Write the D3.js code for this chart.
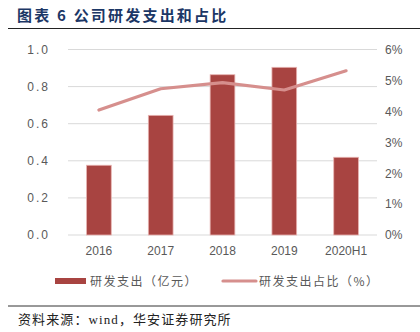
<!DOCTYPE html>
<html><head><meta charset="utf-8">
<script src="https://cdn.jsdelivr.net/npm/d3@7"></script>
<style>body{margin:0;background:#fff}svg{display:block}</style>
</head><body>
<script>
const categories = ["2016","2017","2018","2019","2020H1"];
const rdSpend = [0.376, 0.645, 0.864, 0.904, 0.419];
const rdRatio = [4.04, 4.73, 4.93, 4.69, 5.31];
const leftTicks = [0,0.2,0.4,0.6,0.8,1.0];
const rightTicks = [0,1,2,3,4,5,6];

const W=420,H=332;
const svg=d3.select("body").append("svg").attr("width",W).attr("height",H);
const m={l:68,r:377,t:49.5,b:235};
const x=d3.scaleBand().domain(categories).range([m.l,m.r]).paddingInner(0.6).paddingOuter(0.3);
const yL=d3.scaleLinear().domain([0,1]).range([m.b,m.t]);
const yR=d3.scaleLinear().domain([0,6]).range([m.b,m.t]);
const cjk='"Noto Sans CJK SC","Noto Sans",sans-serif';

// title
svg.append("text").attr("x",17).attr("y",20.5).attr("font-family",cjk).attr("font-weight","bold")
  .attr("font-size",15).attr("fill","#1c3766").attr("letter-spacing","2.2px").text("图表 6 公司研发支出和占比");
svg.append("line").attr("x1",8).attr("x2",420).attr("y1",28.5).attr("y2",28.5).attr("stroke","#222").attr("stroke-width",1);

// grid
svg.append("g").selectAll("line").data(leftTicks).join("line")
  .attr("x1",m.l).attr("x2",m.r).attr("y1",d=>yL(d)).attr("y2",d=>yL(d))
  .attr("stroke","#d9d9d9").attr("stroke-width",1);

// left axis labels
const axL=svg.append("g").attr("transform",`translate(${m.l-18},0)`)
  .call(d3.axisLeft(yL).tickValues(leftTicks).tickFormat(d=>d3.format(".1f")(d)).tickSize(0).tickPadding(0));
axL.select(".domain").remove();
axL.selectAll("text").attr("font-family","Liberation Sans, Arial, sans-serif").attr("font-size",12).attr("fill","#595959").attr("letter-spacing","2px");

// right axis labels
const axR=svg.append("g").attr("transform",`translate(${m.r+8},0)`)
  .call(d3.axisRight(yR).tickValues(rightTicks).tickFormat(d=>d+"%").tickSize(0).tickPadding(0));
axR.select(".domain").remove();
axR.selectAll("text").attr("font-family","Liberation Sans, Arial, sans-serif").attr("font-size",12).attr("fill","#595959");

// x axis labels
const axX=svg.append("g").attr("transform",`translate(0,${m.b+7})`)
  .call(d3.axisBottom(x).tickSize(0).tickPadding(4));
axX.select(".domain").remove();
axX.selectAll("text").attr("font-family","Liberation Sans, Arial, sans-serif").attr("font-size",12).attr("fill","#595959");

// bars
svg.append("g").selectAll("rect").data(rdSpend).join("rect")
  .attr("x",(d,i)=>x(categories[i])).attr("width",x.bandwidth())
  .attr("y",d=>yL(d)).attr("height",d=>m.b-yL(d))
  .attr("fill","#a84441").attr("stroke","#e8b3b1").attr("stroke-width",0.8);

// line
const line=d3.line().x((d,i)=>x(categories[i])+x.bandwidth()/2).y(d=>yR(d));
svg.append("path").datum(rdRatio).attr("d",line).attr("fill","none")
  .attr("stroke","#d68f8d").attr("stroke-width",3.2).attr("stroke-linecap","round").attr("stroke-linejoin","round");

// legend
const lg=svg.append("g");
lg.append("rect").attr("x",55).attr("y",278).attr("width",31).attr("height",6).attr("fill","#a84441");
lg.append("text").attr("x",90).attr("y",285.5).attr("font-family",cjk).attr("font-size",12).attr("fill","#595959").attr("letter-spacing","1.5px").text("研发支出（亿元）");
lg.append("line").attr("x1",223).attr("x2",256).attr("y1",281).attr("y2",281).attr("stroke","#d68f8d").attr("stroke-width",3.2).attr("stroke-linecap","round");
lg.append("text").attr("x",259).attr("y",285.5).attr("font-family",cjk).attr("font-size",12).attr("fill","#595959").attr("letter-spacing","1.5px").text("研发支出占比（%）");

// footer
svg.append("line").attr("x1",8).attr("x2",420).attr("y1",306).attr("y2",306).attr("stroke","#333").attr("stroke-width",1);
svg.append("text").attr("x",18).attr("y",324).attr("font-family",'"Liberation Serif","Noto Sans CJK SC",serif').attr("font-size",13).attr("fill","#222").attr("letter-spacing","1.1px").text("资料来源：wind，华安证券研究所");
</script>
</body></html>
